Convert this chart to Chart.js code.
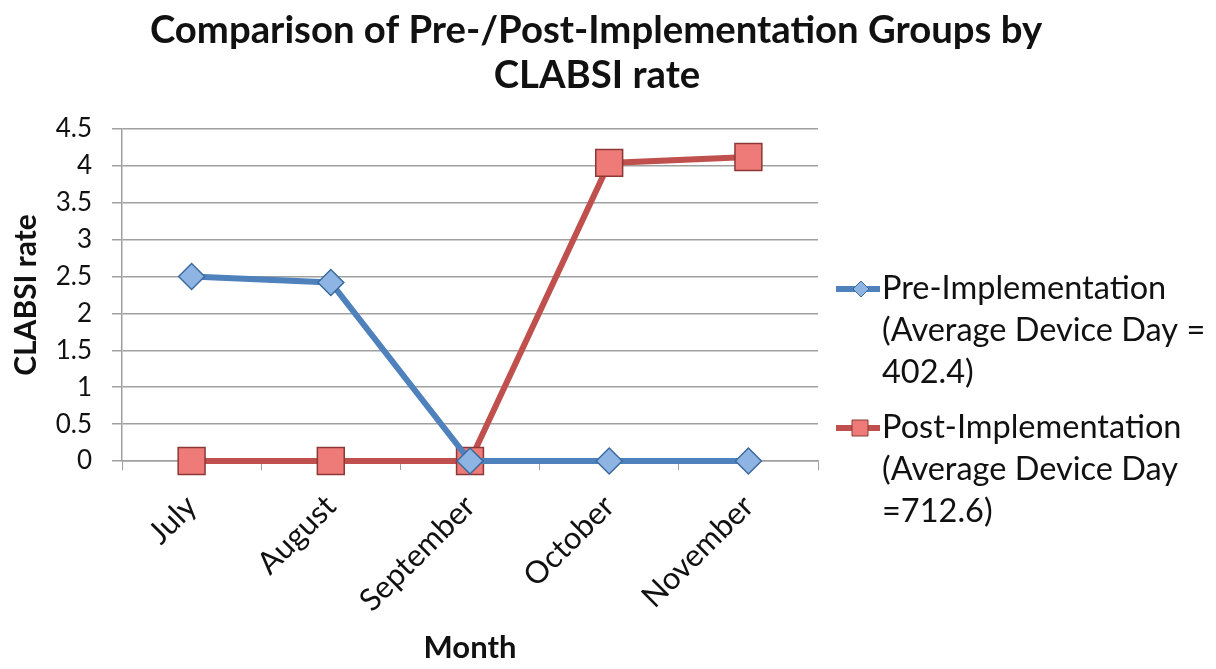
<!DOCTYPE html>
<html>
<head>
<meta charset="utf-8">
<script src="https://cdn.jsdelivr.net/npm/chart.js@4/dist/chart.umd.min.js"></script>
<style>
  body { margin: 0; background: #fff; }
  #wrap { position: relative; width: 1216px; height: 669px; }
</style>
</head>
<body>
<div id="wrap"><canvas id="line-chart"></canvas></div>
<script>
var months = ["July", "August", "September", "October", "November"];
var preRates = [2.5, 2.42, 0, 0, 0];
var postRates = [0, 0, 0, 4.04, 4.12];
var preLabel = ["Pre-Implementation", "(Average Device Day =", "402.4)"];
var postLabel = ["Post-Implementation", "(Average Device Day", "=712.6)"];
var titleLines = ["Comparison of Pre-/Post-Implementation Groups by", "CLABSI rate"];
var yTicks = [0, 0.5, 1, 1.5, 2, 2.5, 3, 3.5, 4, 4.5];

var FONT = "Lato, 'Open Sans', sans-serif";

// title over the whole canvas + legend on the right with wrapped labels
var sideParts = {
  id: "sideParts",
  afterDraw: function(chart) {
    var ctx = chart.ctx;
    ctx.save();
    ctx.fillStyle = "#111";
    ctx.textAlign = "center";
    ctx.textBaseline = "middle";
    ctx.font = "bold 38.3px " + FONT;
    ctx.fillText(titleLines[0], 596, 31);
    ctx.fillText(titleLines[1], 597, 76);

    var labels = [preLabel, postLabel];
    var tops = [289, 428];
    ctx.textAlign = "left";
    chart.data.datasets.forEach(function(ds, i) {
      var y = tops[i];
      ctx.strokeStyle = ds.borderColor;
      ctx.lineWidth = 6;
      ctx.beginPath();
      ctx.moveTo(836, y);
      ctx.lineTo(880, y);
      ctx.stroke();
      ctx.fillStyle = ds.pointBackgroundColor;
      ctx.strokeStyle = ds.pointBorderColor;
      ctx.lineWidth = 1;
      ctx.beginPath();
      if (ds.pointStyle === "rect") {
        ctx.rect(852, y - 8, 16, 16);
      } else {
        ctx.moveTo(861, y - 8); ctx.lineTo(869, y); ctx.lineTo(861, y + 8); ctx.lineTo(853, y); ctx.closePath();
      }
      ctx.fill();
      ctx.stroke();
      ctx.fillStyle = "#111";
      ctx.font = "32.5px " + FONT;
      labels[i].forEach(function(line, j) {
        ctx.fillText(line, 882, y + j * 42);
      });
    });
    ctx.restore();
  }
};

new Chart(document.getElementById("line-chart").getContext("2d"), {
  type: "line",
  data: {
    labels: months,
    datasets: [
      {
        label: preLabel.join(" "),
        data: preRates,
        borderColor: "#4F81BD",
        borderWidth: 6,
        pointStyle: "rectRot",
        pointRadius: 13,
        pointHoverRadius: 13,
        pointBackgroundColor: "#8EB4E3",
        pointBorderColor: "#3B6A9E",
        pointBorderWidth: 1.5,
        tension: 0,
        clip: false
      },
      {
        label: postLabel.join(" "),
        data: postRates,
        borderColor: "#C0504D",
        borderWidth: 6,
        pointStyle: "rect",
        pointRadius: 19,
        pointHoverRadius: 19,
        pointBackgroundColor: "#EE7B78",
        pointBorderColor: "#8C3836",
        pointBorderWidth: 1.5,
        tension: 0,
        clip: false
      }
    ]
  },
  plugins: [sideParts],
  options: {
    responsive: true,
    maintainAspectRatio: false,
    animation: false,
    layout: { padding: { left: 6, right: 398, top: 129, bottom: 0 } },
    plugins: {
      legend: { display: false },
      tooltip: { enabled: false },
      title: { display: false }
    },
    scales: {
      x: {
        offset: true,
        afterFit: function(axis) { axis.height = 208; },
        grid: { display: true, drawOnChartArea: false, offset: true, tickLength: 9, color: "#a0a0a0" },
        border: { color: "#a0a0a0", width: 1.5 },
        ticks: { color: "#111", font: { family: FONT, size: 31 }, minRotation: 45, maxRotation: 45, padding: 18 },
        title: { display: true, text: "Month", color: "#111", font: { family: FONT, size: 31, weight: "bold" }, padding: { top: 4, bottom: 2 } }
      },
      y: {
        min: 0,
        max: 4.5,
        afterFit: function(axis) { axis.width = 116; },
        afterBuildTicks: function(axis) {
          axis.ticks = yTicks.map(function(v) { return { value: v }; });
        },
        grid: { color: "#a0a0a0", lineWidth: 1.5, tickLength: 10 },
        border: { color: "#a0a0a0", width: 1.5 },
        ticks: {
          color: "#111",
          font: { family: FONT, size: 26 },
          padding: 20,
          callback: function(v) { return String(v); }
        },
        title: { display: true, text: "CLABSI rate", color: "#111", font: { family: FONT, size: 30, weight: "bold" }, padding: { top: 2, bottom: 0 } }
      }
    }
  }
});
</script>
</body>
</html>
